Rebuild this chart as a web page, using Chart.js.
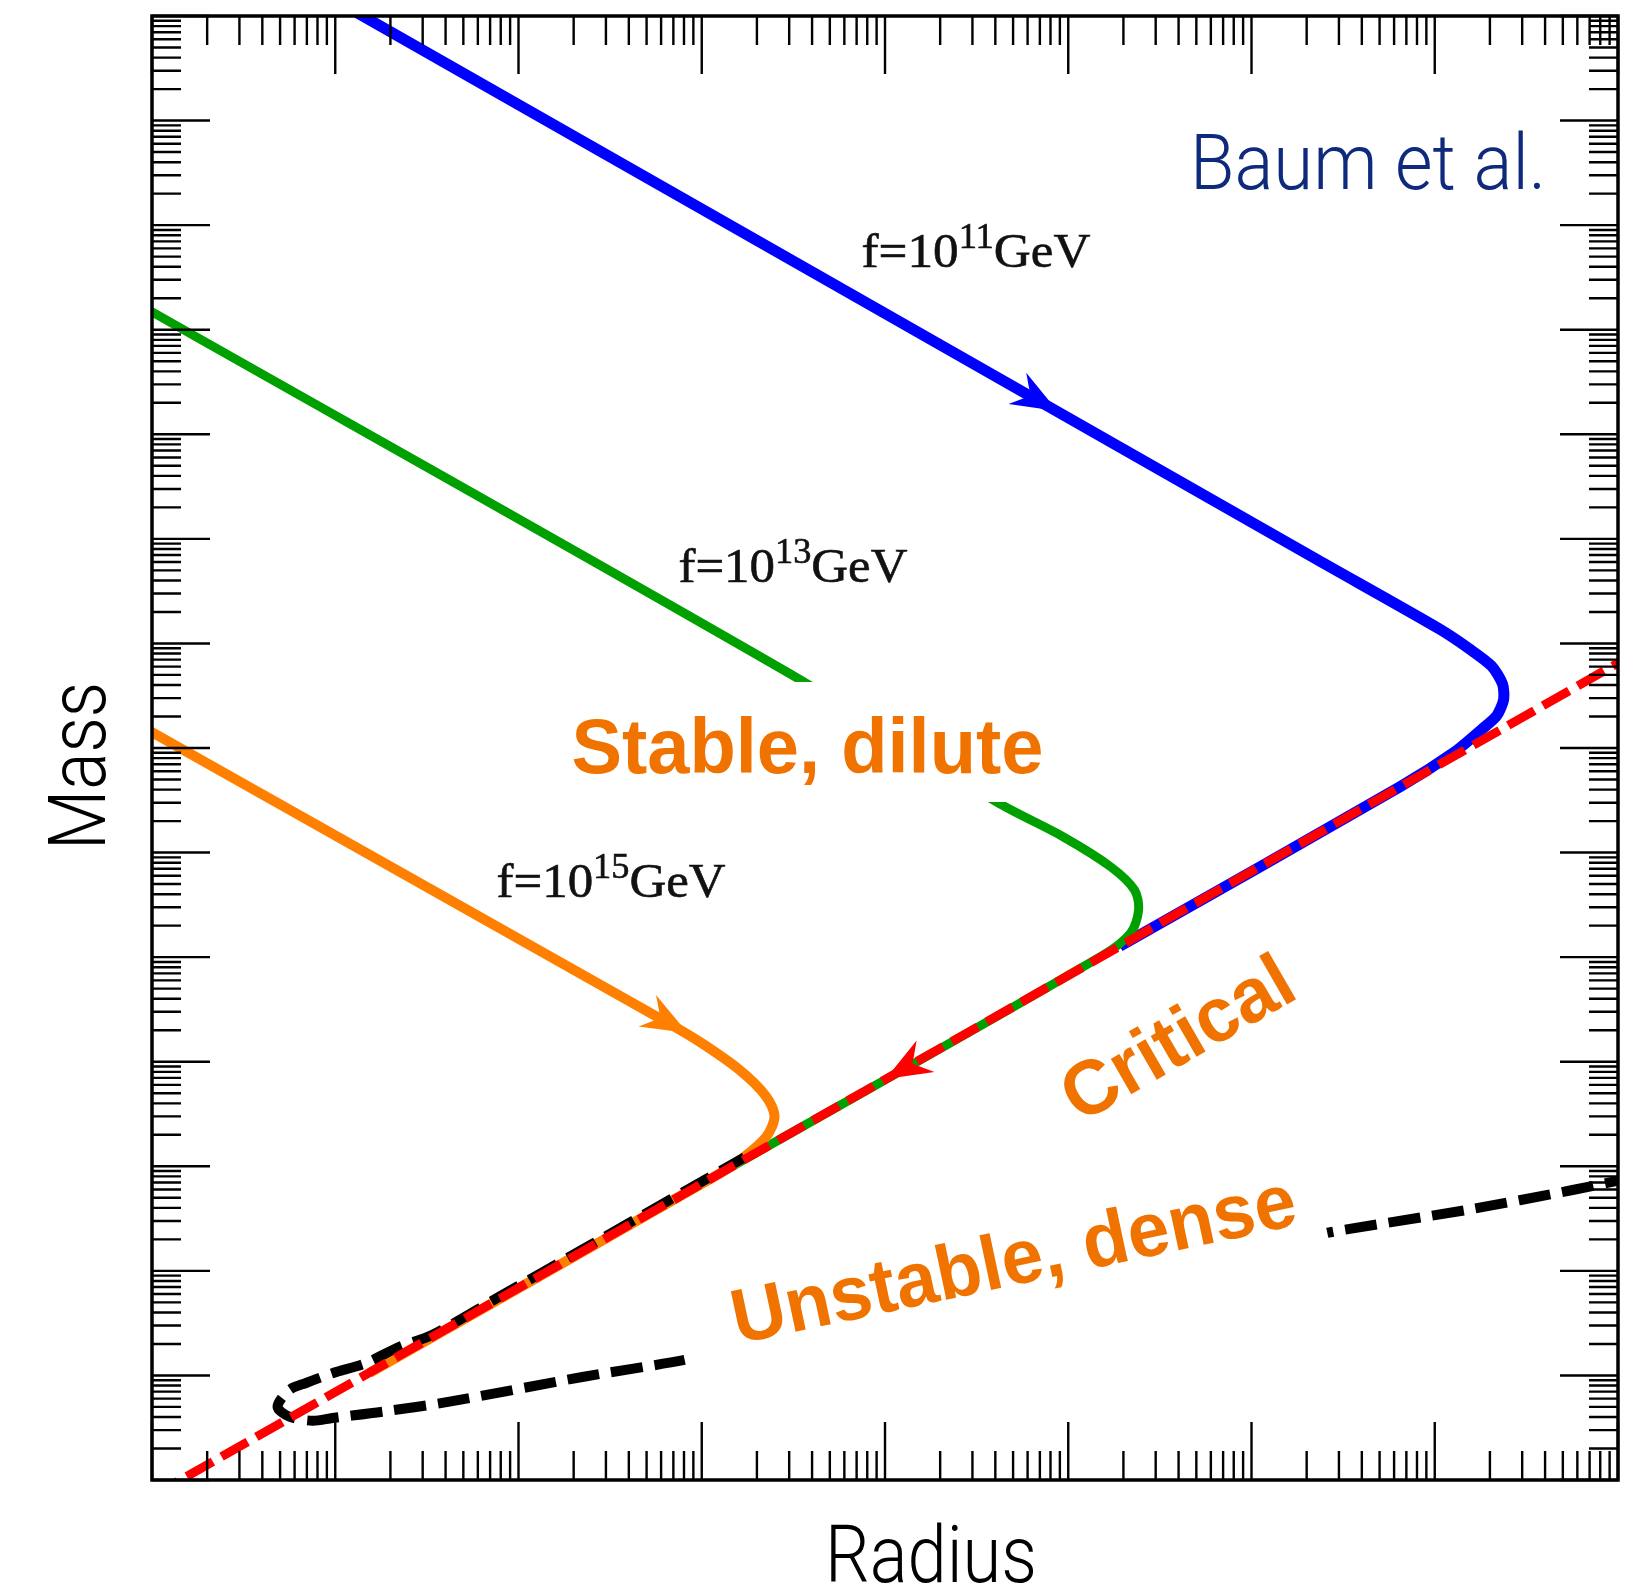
<!DOCTYPE html>
<html>
<head>
<meta charset="utf-8">
<title>Axion star mass vs radius</title>
<script src="https://cdn.jsdelivr.net/npm/chart.js@4/dist/chart.umd.min.js"></script>
<style>
  html, body { margin: 0; padding: 0; background: #fff; }
  canvas { display: block; }
</style>
</head>
<body>
<canvas id="massRadius" width="1625" height="1588"></canvas>
<script>
// Curves (radius, mass in arbitrary log units)
const radiusCritical = [1, 1.26e8];
const massCritical = [0.70, 8.18e7];

const radiusBlue = [6.3, 2.29e6, 1.062e7, 1.549e7, 2.042e7, 2.344e7, 2.373e7, 2.173e7, 1.799e7, 1.282e7, 6.43e6, 1.91e5];
const massBlue = [2.24e14, 6.31e8, 1.374e8, 8.85e7, 6.08e7, 4.09e7, 2.88e7, 2.02e7, 1.50e7, 9.16e6, 4.23e6, 1.27e5];

const radiusGreen = [0.794, 3784, 4.06e4, 9.42e4, 1.71e5, 2.30e5, 2.42e5, 2.19e5, 1.55e5, 1250];
const massGreen = [1.86e11, 4.09e7, 3.05e6, 1.41e6, 7.28e5, 4.39e5, 2.82e5, 1.70e5, 1.047e5, 851];

const radiusOrange = [0.794, 611, 973, 1607, 2249, 2495, 2249, 1675, 1250, 15.4];
const massOrange = [1.78e7, 2.51e4, 1.55e4, 8340, 4634, 2979, 1919, 1200, 851, 10.6];

const radiusDense = [1.26e8, 5.65e7, 1.49e7, 2.56e6, 4.22e4, 805, 223, 42.0, 18.1, 9.66, 7.52, 5.62, 4.84, 5.62, 6.93, 9.66, 14.8, 22.4, 34.0, 78.7, 277, 1710];
const massDense = [794, 593, 382, 230, 56.2, 14.06, 9.66, 5.61, 4.50, 3.92, 3.69, 4.03, 5.02, 7.26, 8.47, 10.5, 13.2, 18.8, 24.5, 56.6, 198, 1216];

// f values of the three curves (GeV exponents)
const fExponents = ['11', '13', '15'];

// Axis ranges (decades)
const radiusRange = [1, 1e8];
const massRange = [1, 1e14];

const ORANGE_TEXT = '#f07300';

function pts(r, m) {
    return r.map((v, i) => ({ x: v, y: m[i] }));
}

// Direction arrows, placed in data space
const arrows = [
    { color: '#0000ff', tip: [8.73e4, 1.67e10], from: [4.78e4, 3.03e10] },
    { color: '#ff8000', tip: [836, 1.88e4], from: [519, 2.99e4] },
    { color: '#ff0000', tip: [1.007e4, 6839], from: [1.585e4, 1.074e4] }
];

// Curve labels anchored in data space (left, baseline)
const curveLabelPos = [
    { r: 7447, m: 3.98e11 },
    { r: 746, m: 3.87e8 },
    { r: 75.9, m: 3.76e5 }
];

// Region labels
const regionLabels = [
    { text: 'Stable, dilute', r: 194.5, m: 5.77e6, angle: 0, width: 472, align: 'left',
      box: { x0: -15, x1: 487, y0: -91, y1: 29 } },
    { text: 'Critical', r: 4.05e5, m: 1.55e4, angle: -30, width: 255, align: 'center' },
    { text: 'Unstable, dense', r: 1567, m: 20.0, angle: -12, width: 575, align: 'left',
      box: { x0: -55, x1: 600, y0: -78, y1: 30 } }
];

/**
 * Draw text squeezed/stretched to a given width
 */
function fitText(ctx, text, x, y, width, align) {
    const w = ctx.measureText(text).width;
    const s = width / w;
    ctx.save();
    ctx.translate(x, y);
    ctx.scale(s, 1);
    ctx.textAlign = 'left';
    const dx = align === 'center' ? -w / 2 : 0;
    ctx.fillText(text, dx, 0);
    ctx.restore();
}

// Frame with log ticks on all four sides
const frameTicks = {
    id: 'frameTicks',
    afterDraw(chart) {
        const { ctx, chartArea: a, scales: { x, y } } = chart;
        const majorLen = 58, minorLen = 29;
        ctx.save();
        ctx.strokeStyle = '#000';
        ctx.lineWidth = 2.4;
        ctx.beginPath();
        for (let e = Math.round(Math.log10(x.min)); e <= Math.round(Math.log10(x.max)); e++) {
            for (let k = 1; k <= 9; k++) {
                const v = k * Math.pow(10, e);
                if (v > x.max * 1.0001) continue;
                const px = x.getPixelForValue(v);
                const len = k === 1 ? majorLen : minorLen;
                ctx.moveTo(px, a.bottom); ctx.lineTo(px, a.bottom - len);
                ctx.moveTo(px, a.top); ctx.lineTo(px, a.top + len);
            }
        }
        for (let e = Math.round(Math.log10(y.min)); e <= Math.round(Math.log10(y.max)); e++) {
            for (let k = 1; k <= 9; k++) {
                const v = k * Math.pow(10, e);
                if (v > y.max * 1.0001) continue;
                const py = y.getPixelForValue(v);
                const len = k === 1 ? majorLen : minorLen;
                ctx.moveTo(a.left, py); ctx.lineTo(a.left + len, py);
                ctx.moveTo(a.right, py); ctx.lineTo(a.right - len, py);
            }
        }
        ctx.stroke();
        ctx.lineWidth = 3.5;
        ctx.strokeRect(a.left, a.top, a.right - a.left, a.bottom - a.top);
        ctx.restore();
    }
};

// Arrows, labels and axis titles
const annotations = {
    id: 'annotations',
    afterDatasetsDraw(chart) {
        const { ctx, scales: { x, y } } = chart;
        ctx.save();

        // arrow heads
        arrows.forEach(ar => {
            const tx = x.getPixelForValue(ar.tip[0]), ty = y.getPixelForValue(ar.tip[1]);
            const fx = x.getPixelForValue(ar.from[0]), fy = y.getPixelForValue(ar.from[1]);
            const d = Math.hypot(tx - fx, ty - fy);
            const ux = (tx - fx) / d, uy = (ty - fy) / d;
            const nx = -uy, ny = ux;
            const L = 46, W = 18, N = 31;
            ctx.fillStyle = ar.color;
            ctx.beginPath();
            ctx.moveTo(tx, ty);
            ctx.lineTo(tx - ux * L + nx * W, ty - uy * L + ny * W);
            ctx.lineTo(tx - ux * N, ty - uy * N);
            ctx.lineTo(tx - ux * L - nx * W, ty - uy * L - ny * W);
            ctx.closePath();
            ctx.fill();
        });

        // region labels with white boxes
        regionLabels.forEach(lb => {
            const px = x.getPixelForValue(lb.r), py = y.getPixelForValue(lb.m);
            ctx.save();
            ctx.translate(px, py);
            ctx.rotate(lb.angle * Math.PI / 180);
            if (lb.box) {
                ctx.fillStyle = '#fff';
                ctx.fillRect(lb.box.x0, lb.box.y0, lb.box.x1 - lb.box.x0, lb.box.y1 - lb.box.y0);
            }
            ctx.fillStyle = ORANGE_TEXT;
            ctx.font = 'bold 77px "Liberation Sans", Arial, sans-serif';
            ctx.textBaseline = lb.align === 'center' ? 'middle' : 'alphabetic';
            fitText(ctx, lb.text, 0, 0, lb.width, lb.align);
            ctx.restore();
        });

        // f = 10^n GeV labels
        curveLabelPos.forEach((p, i) => {
            const px = x.getPixelForValue(p.r), py = y.getPixelForValue(p.m);
            const serif = '"Liberation Serif", "Times New Roman", serif';
            const parts = [
                { t: 'f=10', font: '49px ' + serif, rise: 0 },
                { t: fExponents[i], font: '35px ' + serif, rise: 19 },
                { t: 'GeV', font: '49px ' + serif, rise: 0 }
            ];
            let total = 0;
            parts.forEach(pt => { ctx.font = pt.font; pt.w = ctx.measureText(pt.t).width; total += pt.w; });
            const s = 229 / total;
            ctx.save();
            ctx.translate(px, py);
            ctx.scale(s, 1);
            ctx.fillStyle = '#111';
            ctx.strokeStyle = '#111';
            ctx.lineWidth = 0.6;
            ctx.textBaseline = 'alphabetic';
            let cx = 0;
            parts.forEach(pt => {
                ctx.font = pt.font;
                ctx.fillText(pt.t, cx, -pt.rise);
                ctx.strokeText(pt.t, cx, -pt.rise);
                cx += pt.w;
            });
            ctx.restore();
        });

        // Baum et al.
        ctx.fillStyle = '#0f2a7d';
        ctx.font = '300 78px Roboto, Inter, "Open Sans", sans-serif';
        ctx.textBaseline = 'alphabetic';
        fitText(ctx, 'Baum et al.', 1190, 189, 356, 'left');

        // axis titles
        ctx.fillStyle = '#000';
        ctx.font = '300 80px Roboto, Inter, "Open Sans", sans-serif';
        fitText(ctx, 'Radius', 931, 1582, 212, 'center');
        ctx.save();
        ctx.translate(105, 766);
        ctx.rotate(-Math.PI / 2);
        fitText(ctx, 'Mass', 0, 0, 168, 'center');
        ctx.restore();

        ctx.restore();
    }
};

const lineBase = { showLine: true, pointRadius: 0, clip: 0, borderJoinStyle: 'round', fill: false };

new Chart(document.getElementById('massRadius').getContext('2d'), {
    type: 'scatter',
    data: {
        datasets: [
            { ...lineBase, label: 'Critical', data: pts(radiusCritical, massCritical),
              borderColor: '#ff0000', borderWidth: 9, borderDash: [30, 10], tension: 0 },
            { ...lineBase, label: 'Unstable, dense', data: pts(radiusDense, massDense),
              borderColor: '#000000', borderWidth: 10, borderDash: [32, 12], tension: 0.3 },
            { ...lineBase, label: 'f=1e15 GeV', data: pts(radiusOrange, massOrange),
              borderColor: '#ff8000', borderWidth: 10, tension: 0.3 },
            { ...lineBase, label: 'f=1e13 GeV', data: pts(radiusGreen, massGreen),
              borderColor: '#00a000', borderWidth: 9, tension: 0.3 },
            { ...lineBase, label: 'f=1e11 GeV', data: pts(radiusBlue, massBlue),
              borderColor: '#0000ff', borderWidth: 11, tension: 0.25 }
        ]
    },
    options: {
        responsive: false,
        animation: false,
        events: [],
        layout: { padding: { left: 152, top: 16, right: 7, bottom: 108 } },
        scales: {
            x: { type: 'logarithmic', min: radiusRange[0], max: radiusRange[1], display: false },
            y: { type: 'logarithmic', min: massRange[0], max: massRange[1], display: false }
        },
        plugins: {
            legend: { display: false },
            tooltip: { enabled: false }
        }
    },
    plugins: [annotations, frameTicks]
});
</script>
</body>
</html>
